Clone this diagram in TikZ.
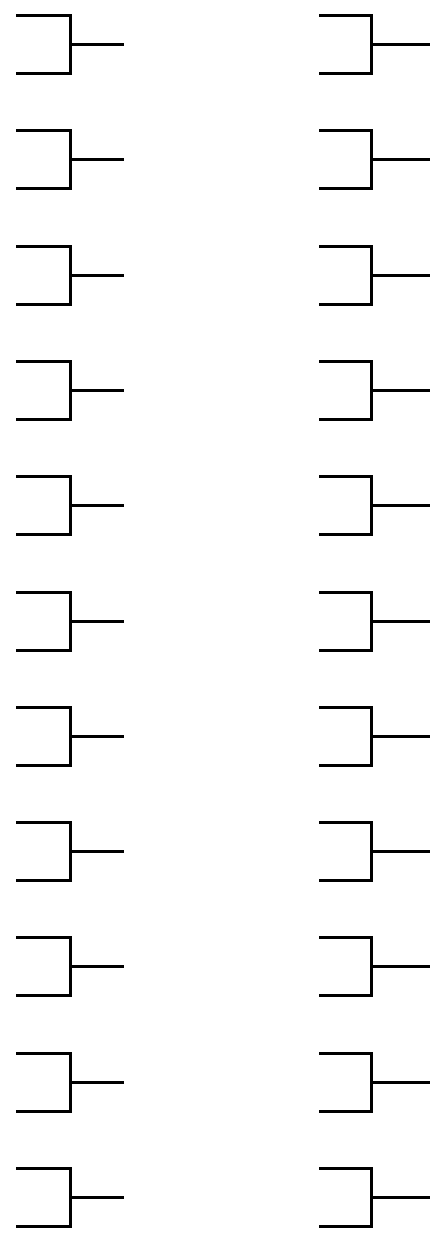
\documentclass[tikz,border=0pt]{standalone}
\usetikzlibrary{positioning}

\begin{document}
\begin{tikzpicture}[x=1pt, y=-1pt, line width=3pt,
    bracket/.style={draw=black, line cap=butt, line join=miter}]
  \useasboundingbox (0,0) rectangle (430,1236);
  \foreach \r in {0,...,10} {
    \pgfmathsetmacro{\yt}{15.5+115.3*\r}
    \pgfmathsetmacro{\yb}{\yt+58}
    \pgfmathsetmacro{\ym}{\yt+29}
    \foreach \c/\xl/\xj/\xe in {L/16/70/124, R/319/371/430} {
      \coordinate (top\c\r) at (\xl,\yt);
      \coordinate (bot\c\r) at (\xl,\yb);
      \coordinate (jt\c\r) at (\xj,\yt);
      \coordinate (jb\c\r) at (\xj,\yb);
      \coordinate (jm\c\r) at (\xj,\ym);
      \coordinate (out\c\r) at (\xe,\ym);
      \draw[bracket] (top\c\r)--(jt\c\r)--(jb\c\r)--(bot\c\r);
      \draw[bracket] (jm\c\r)--(out\c\r);
    }
  }
\end{tikzpicture}
\end{document}
